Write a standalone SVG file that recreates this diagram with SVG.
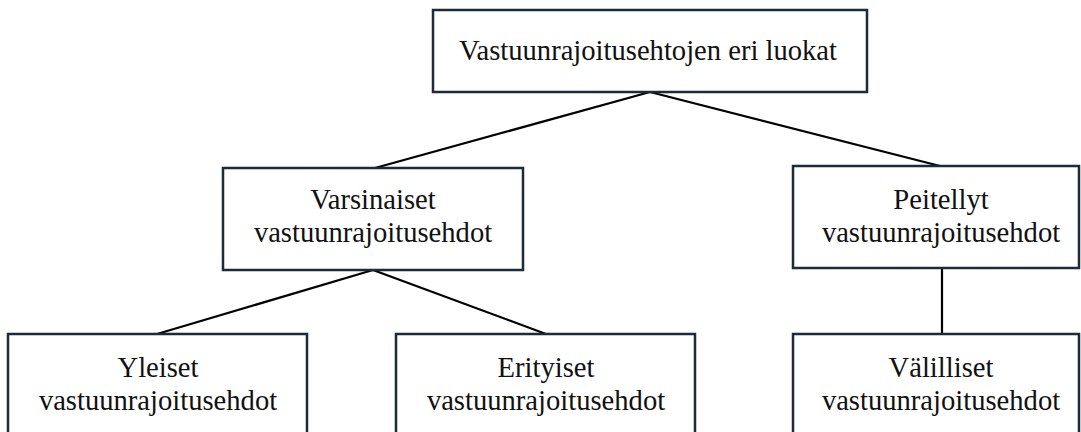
<svg xmlns="http://www.w3.org/2000/svg" width="1081" height="432" viewBox="0 0 1081 432">
<style>
.box{fill:#ffffff;stroke:#1b2b38;stroke-width:2.5}
.lbl{font-family:"Liberation Serif","Times New Roman",serif;font-size:28.6px;fill:#111111;text-anchor:middle}
.conn{stroke:#000000;stroke-width:2.2;fill:none}
</style>
<rect width="1081" height="432" fill="#ffffff"/>
<g id="connectors">
<line class="conn" x1="650" y1="92" x2="375" y2="168"/>
<line class="conn" x1="650" y1="92" x2="940" y2="166"/>
<line class="conn" x1="373" y1="270" x2="157" y2="334"/>
<line class="conn" x1="373" y1="270" x2="546" y2="334"/>
<line class="conn" x1="942" y1="268" x2="942" y2="334"/>
</g>
<g id="n-root">
<rect class="box" x="433" y="10" width="434" height="82"/>
<text class="lbl" x="648" y="60">Vastuunrajoitusehtojen eri luokat</text>
</g>
<g id="n-varsinaiset">
<rect class="box" x="223" y="168" width="300" height="102"/>
<text class="lbl" x="373" y="209">Varsinaiset</text>
<text class="lbl" x="373" y="242">vastuunrajoitusehdot</text>
</g>
<g id="n-peitellyt">
<rect class="box" x="793" y="166" width="286" height="102"/>
<text class="lbl" x="941" y="209">Peitellyt</text>
<text class="lbl" x="941" y="242">vastuunrajoitusehdot</text>
</g>
<g id="n-yleiset">
<rect class="box" x="8" y="334" width="299" height="110"/>
<text class="lbl" x="158" y="377">Yleiset</text>
<text class="lbl" x="158" y="410">vastuunrajoitusehdot</text>
</g>
<g id="n-erityiset">
<rect class="box" x="396" y="334" width="299" height="110"/>
<text class="lbl" x="546" y="377">Erityiset</text>
<text class="lbl" x="546" y="410">vastuunrajoitusehdot</text>
</g>
<g id="n-valilliset">
<rect class="box" x="793" y="334" width="286" height="110"/>
<text class="lbl" x="941" y="377">Välilliset</text>
<text class="lbl" x="941" y="410">vastuunrajoitusehdot</text>
</g>
</svg>
